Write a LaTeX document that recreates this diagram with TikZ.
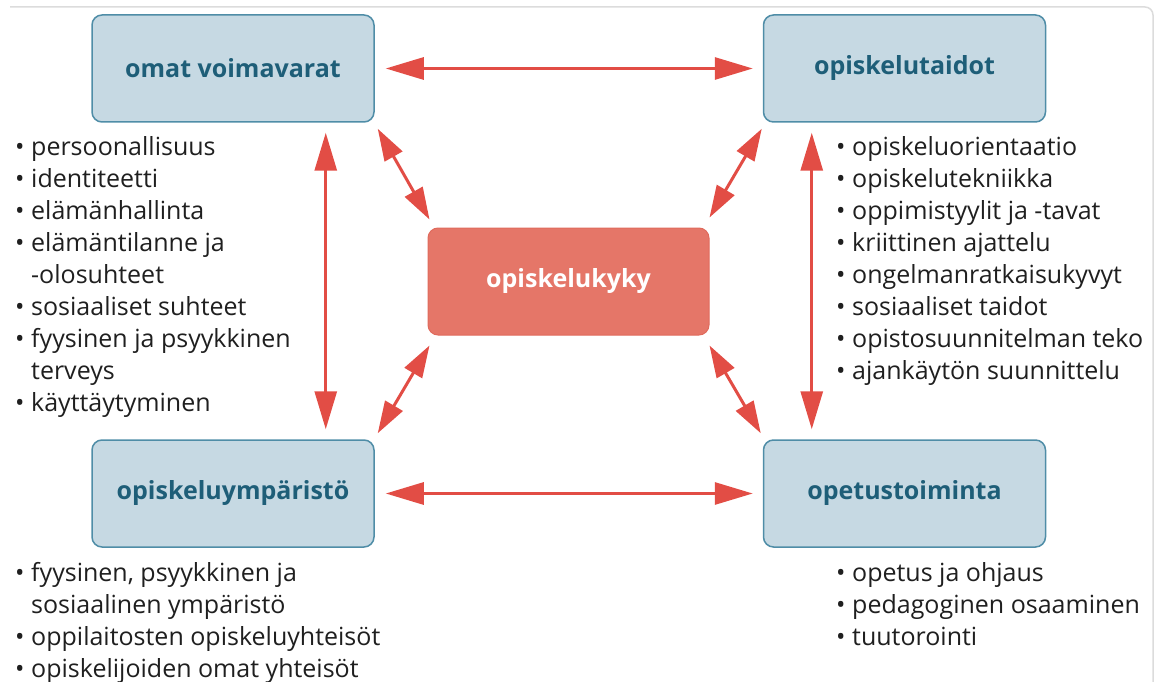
\documentclass[tikz,border=0pt]{standalone}
\usepackage{fontspec}
\setmainfont{Open Sans}
\usetikzlibrary{arrows.meta,calc}
\definecolor{boxfill}{HTML}{C6D9E3}
\definecolor{boxdraw}{HTML}{4F8DA7}
\definecolor{boxtext}{HTML}{1E5E78}
\definecolor{corefill}{HTML}{E57668}
\definecolor{coredraw}{HTML}{E06A5C}
\definecolor{arrowred}{HTML}{E24D45}
\definecolor{framegrey}{HTML}{DCDCDC}
\newcommand\bitem[1]{\noindent\makebox[16pt][l]{•}\mbox{#1}\par}
\newcommand\bcont[1]{\noindent\hspace*{16pt}\mbox{#1}\par}
\begin{document}
\begin{tikzpicture}[x=1pt,y=-1pt,
  topic/.style={draw=boxdraw, fill=boxfill, line width=1.5pt, rounded corners=10pt,
    minimum width=282pt, minimum height=107pt, inner sep=0pt,
    font=\fontsize{25}{28}\selectfont\bfseries, text=boxtext},
  core/.style={draw=coredraw, fill=corefill, line width=1pt, rounded corners=10pt,
    minimum width=281pt, minimum height=107pt, inner sep=0pt,
    font=\fontsize{25}{28}\selectfont\bfseries, text=white},
  biarrow/.style={draw=arrowred, line width=3pt,
    {Triangle[length=38pt,width=22pt]}-{Triangle[length=38pt,width=22pt]}},
  diarrow/.style={draw=arrowred, line width=3pt,
    {Triangle[length=32pt,width=20pt]}-{Triangle[length=32pt,width=20pt]}},
  listtext/.style={anchor=base west, inner sep=0pt, text=black!88,
    font=\fontsize{25}{32}\selectfont}
]
\useasboundingbox (0,0) rectangle (1160,682);
\draw[framegrey, line width=1.5pt] (10,7) -- (1145,7) to[out=0,in=90] (1153,15) -- (1153,682);

\node[topic] (ov) at (233,68.5) {omat voimavarat};
\node[topic] (ot) at (904.5,68.5) {opiskelutaidot};
\node[core]  (ok) at (568.5,281.5) {opiskelukyky};
\node[topic] (oy) at (233,493.5) {opiskeluympäristö};
\node[topic] (op) at (904.5,493.5) {opetustoiminta};

\draw[biarrow] ($(ov.east)+(11,0)$) -- ($(ot.west)+(-10,0)$);
\draw[biarrow] ($(oy.east)+(11,0)$) -- ($(op.west)+(-10,0)$);
\draw[biarrow] ($(ov.south east)+(-49,10)$) -- ($(oy.north east)+(-49,-10)$);
\draw[biarrow] ($(ot.south west)+(49,10)$) -- ($(op.north west)+(49,-10)$);

\draw[diarrow] ($(ov.south east)+(3,6)$) -- ($(ok.north west)+(2,-8)$);
\draw[diarrow] ($(ot.south west)+(-1,6)$) -- ($(ok.north east)+(0,-10)$);
\draw[diarrow] ($(oy.north east)+(3,-6)$) -- ($(ok.south west)+(2,10)$);
\draw[diarrow] ($(op.north west)+(-2,-6)$) -- ($(ok.south east)+(0,10)$);

\node[listtext] (lv) at (15,156) {\parbox[t]{400pt}{%
\bitem{persoonallisuus}
\bitem{identiteetti}
\bitem{elämänhallinta}
\bitem{elämäntilanne ja}
\bcont{-olosuhteet}
\bitem{sosiaaliset suhteet}
\bitem{fyysinen ja psyykkinen}
\bcont{terveys}
\bitem{käyttäytyminen}}};

\node[listtext] (lt) at (836,156) {\parbox[t]{310pt}{%
\bitem{opiskeluorientaatio}
\bitem{opiskelutekniikka}
\bitem{oppimistyylit ja -tavat}
\bitem{kriittinen ajattelu}
\bitem{ongelmanratkaisukyvyt}
\bitem{sosiaaliset taidot}
\bitem{opistosuunnitelman teko}
\bitem{ajankäytön suunnittelu}}};

\node[listtext] (ly) at (15,581) {\parbox[t]{400pt}{%
\bitem{fyysinen, psyykkinen ja}
\bcont{sosiaalinen ympäristö}
\bitem{oppilaitosten opiskeluyhteisöt}
\bitem{opiskelijoiden omat yhteisöt}}};

\node[listtext] (lp) at (836,581) {\parbox[t]{310pt}{%
\bitem{opetus ja ohjaus}
\bitem{pedagoginen osaaminen}
\bitem{tuutorointi}}};
\end{tikzpicture}
\end{document}
